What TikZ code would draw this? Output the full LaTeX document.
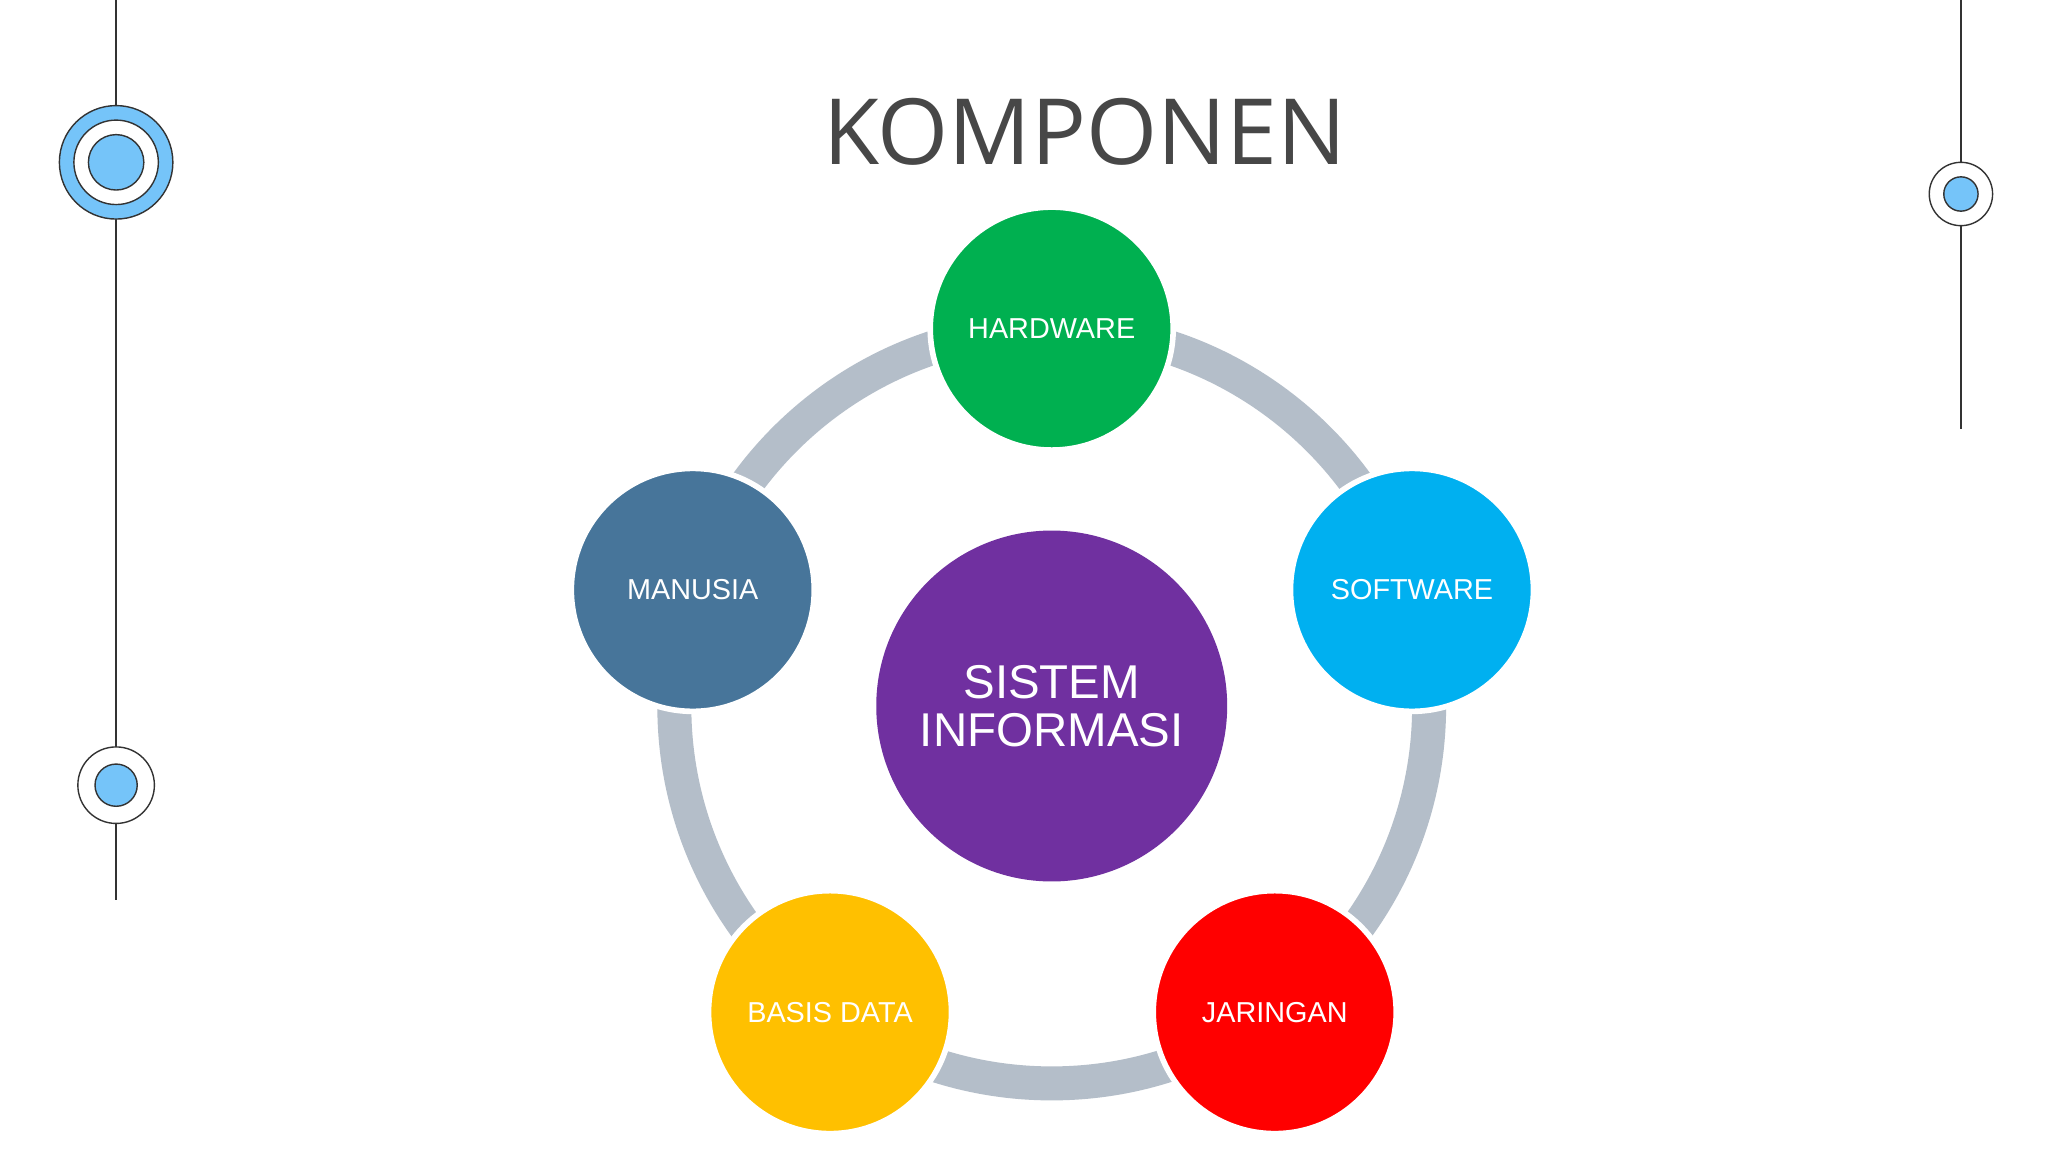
\documentclass[tikz,border=0pt]{standalone}
\usepackage{fontspec}
\setmainfont{Liberation Sans}
\newfontfamily\titlefont{Open Sans}
\definecolor{ring}{HTML}{B4BEC9}
\definecolor{lblue}{HTML}{75C4F9}
\definecolor{dline}{HTML}{333333}
\begin{document}
\begin{tikzpicture}[x=0.013196cm,y=-0.013196cm,
  comp/.style={circle,minimum size=184\pgflinewidth*0+2.43cm,draw=white,line width=1.6pt,text=white,font=\fontsize{8.2}{10}\selectfont,inner sep=0pt},
  deco/.style={draw=dline,line width=0.4pt}]
\useasboundingbox (0,0) rectangle (1552,873);
\fill[white] (0,0) rectangle (1552,873);
% side decorations
\draw[deco] (88,0) -- (88,682);
\draw[deco] (1486,0) -- (1486,325);
\filldraw[deco,fill=lblue] (88,123) circle[radius=43];
\filldraw[deco,fill=white] (88,123) circle[radius=32];
\filldraw[deco,fill=lblue] (88,123) circle[radius=21];
\filldraw[deco,fill=white] (88,595) circle[radius=29];
\filldraw[deco,fill=lblue] (88,595) circle[radius=16];
\filldraw[deco,fill=white] (1486,147) circle[radius=24];
\filldraw[deco,fill=lblue] (1486,147) circle[radius=13];
% title
\node[text=black!72,font=\titlefont\fontsize{26}{30}\selectfont] (title) at (822,100) {KOMPONEN};
% ring
\coordinate (c) at (797,535);
\draw[ring,line width=0.34cm] (c) circle[radius=286];
% circles
\node[circle,fill={rgb,255:red,112;green,48;blue,160},minimum size=3.51cm,inner sep=0pt,text=white,align=center,font=\fontsize{13.5}{13.5}\selectfont] (si) at (c) {SISTEM\\INFORMASI};
\node[comp,fill={rgb,255:red,0;green,176;blue,80}] (hw) at (797,249) {HARDWARE};
\node[comp,fill={rgb,255:red,0;green,176;blue,240}] (sw) at (1070,447) {SOFTWARE};
\node[comp,fill={rgb,255:red,255;green,0;blue,0}] (jr) at (966,767) {JARINGAN};
\node[comp,fill={rgb,255:red,255;green,192;blue,0}] (bd) at (629,767) {BASIS DATA};
\node[comp,fill={rgb,255:red,71;green,117;blue,154}] (mn) at (525,447) {MANUSIA};
\end{tikzpicture}
\end{document}
